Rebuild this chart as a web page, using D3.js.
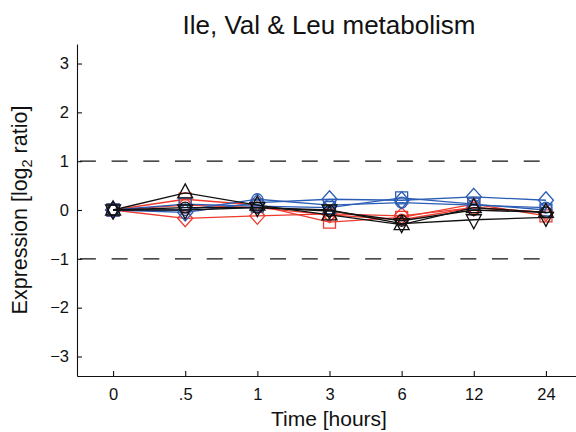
<!DOCTYPE html>
<html><head><meta charset="utf-8">
<script src="https://cdn.jsdelivr.net/npm/d3@7"></script>
<style>
body{margin:0;background:#fff}
text{font-family:"Liberation Sans",Arial,Helvetica,sans-serif;fill:#111}
</style>
</head><body>
<svg id="chart" width="576" height="432"></svg>
<script>
// ---- data ----
const timeLabels = ["0", ".5", "1", "3", "6", "12", "24"];
const yTickValues = [-3, -2, -1, 0, 1, 2, 3];
const thresholdValues = [1, -1];

const blueDiamond  = [0, -0.05, 0.15, 0.22, 0.2, 0.27, 0.2];
const blueCircle   = [0, 0.0, 0.22, 0.1, 0.15, 0.1, 0.05];
const blueSquare   = [0, 0.12, 0.08, 0.05, 0.25, 0.12, 0.0];
const redDiamond   = [0, -0.17, -0.12, -0.08, -0.12, 0.05, -0.05];
const redSquare    = [0, 0.22, 0.1, -0.25, -0.15, 0.12, -0.12];
const redCircle    = [0, 0.1, 0.05, -0.1, -0.2, 0.05, -0.05];
const blackTriUp   = [0, 0.35, 0.1, -0.1, -0.3, 0.05, -0.05];
const blackTriDown = [0, 0.0, 0.05, 0.0, -0.28, -0.2, -0.15];
const blackCircle  = [0, 0.05, 0.05, -0.02, -0.22, 0.0, -0.05];

const blue = "#2b5db5", red = "#ee3b2e", black = "#111";
const series = [
  {values: redDiamond, color: red, marker: "diamond"},
  {values: redSquare, color: red, marker: "square"},
  {values: redCircle, color: red, marker: "circle"},
  {values: blueDiamond, color: blue, marker: "diamond"},
  {values: blueCircle, color: blue, marker: "circle"},
  {values: blueSquare, color: blue, marker: "square"},
  {values: blackCircle, color: black, marker: "circle"},
  {values: blackTriDown, color: black, marker: "tridown"},
  {values: blackTriUp, color: black, marker: "triup"}
];

// ---- layout ----
const svg = d3.select("#chart");
const x = d3.scaleLinear().domain([-0.5, 6.5]).range([77, 582]);
const y = d3.scaleLinear().domain([-3.4, 3.4]).range([376, 44]);

// threshold dashed lines
svg.selectAll("line.thr").data(thresholdValues).join("line")
  .attr("class", "thr")
  .attr("x1", x(-0.46)).attr("x2", x(5.95))
  .attr("y1", d => y(d)).attr("y2", d => y(d))
  .attr("stroke", "#111").attr("stroke-width", 1.3)
  .attr("stroke-dasharray", "16,15.7");

// axes
const xAxis = d3.axisBottom(x).tickValues(d3.range(timeLabels.length))
  .tickFormat(i => timeLabels[i]).tickSizeInner(-5).tickSizeOuter(0).tickPadding(12);
const gx = svg.append("g").attr("transform", `translate(0,${y(-3.4)})`).call(xAxis);
gx.selectAll("text").attr("font-size", 16.5).attr("fill", "#111");

const yAxis = d3.axisLeft(y).tickValues(yTickValues)
  .tickFormat(d => d < 0 ? "\u2212" + Math.abs(d) : String(d))
  .tickSizeInner(-5).tickSizeOuter(0).tickPadding(8);
const gy = svg.append("g").attr("transform", `translate(${x(-0.5)},0)`).call(yAxis);
gy.selectAll("text").attr("font-size", 16.5).attr("fill", "#111");

svg.selectAll(".domain, .tick line").attr("stroke", "#111").attr("stroke-width", 1.1);

// marker shapes
function markerPath(type) {
  switch (type) {
    case "circle": return d3.symbol(d3.symbolCircle, Math.PI * 5.5 * 5.5)();
    case "square": return "M-6,-6H6V6H-6Z";
    case "diamond": return "M0,-8.5L7.5,0L0,8.5L-7.5,0Z";
    case "triup": return "M0,-9L7.5,5L-7.5,5Z";
    case "tridown": return "M0,9L7.5,-5L-7.5,-5Z";
  }
}

const line = d3.line().x((d, i) => x(i)).y(d => y(d));
const gs = svg.append("g").selectAll("g").data(series).join("g");
gs.append("path")
  .attr("d", s => line(s.values))
  .attr("fill", "none").attr("stroke", s => s.color).attr("stroke-width", 1.3);
gs.each(function(s) {
  d3.select(this).selectAll("path.m").data(s.values).join("path")
    .attr("class", "m")
    .attr("transform", (d, i) => `translate(${x(i)},${y(d)})`)
    .attr("d", markerPath(s.marker))
    .attr("fill", "none").attr("stroke", s.color).attr("stroke-width", 1.3);
});

// labels
svg.append("text").attr("x", 329).attr("y", 34).attr("text-anchor", "middle")
  .attr("font-size", 26).text("Ile, Val & Leu metabolism");
svg.append("text").attr("x", 329).attr("y", 426).attr("text-anchor", "middle")
  .attr("font-size", 21).text("Time [hours]");
const yl = svg.append("text").attr("transform", "translate(27,210) rotate(-90)")
  .attr("text-anchor", "middle").attr("font-size", 21.5);
yl.append("tspan").text("Expression [log");
yl.append("tspan").attr("font-size", 14.5).attr("dy", 5).text("2");
yl.append("tspan").attr("dy", -5).text(" ratio]");
</script>
</body></html>
